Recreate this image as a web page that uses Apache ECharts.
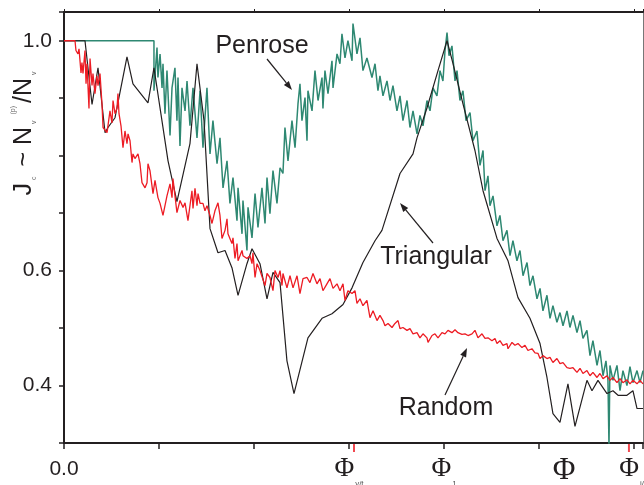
<!DOCTYPE html>
<html><head><meta charset="utf-8">
<script src="https://cdn.jsdelivr.net/npm/echarts@6/dist/echarts.min.js"></script>
<style>html,body{margin:0;padding:0;background:#fff}#c{width:644px;height:485px}</style>
</head><body><div id="c"></div>
<script>
// x in units of the bottom tick spacing (0 .. 6.1), y = Jc ~ Nv(p)/Nv
const triangular = [[0,1.000],[0.221,1.000],[0.295,0.889],[0.358,0.953],[0.432,0.840],[0.463,0.849],[0.537,0.866],[0.663,0.972],[0.726,0.925],[0.884,0.892],[0.947,0.953],[1.095,0.791],[1.189,0.720],[1.326,0.821],[1.400,0.960],[1.474,0.861],[1.537,0.673],[1.621,0.631],[1.695,0.635],[1.768,0.605],[1.832,0.557],[1.926,0.612],[1.979,0.638],[2.063,0.612],[2.137,0.551],[2.200,0.597],[2.274,0.579],[2.347,0.443],[2.421,0.386],[2.568,0.483],[2.716,0.517],[2.821,0.525],[2.937,0.541],[3.032,0.570],[3.147,0.614],[3.274,0.652],[3.347,0.670],[3.537,0.769],[3.674,0.803],[3.716,0.831],[3.821,0.883],[3.937,0.948],[4.032,1.000],[4.095,0.960],[4.200,0.890],[4.326,0.809],[4.411,0.739],[4.558,0.656],[4.674,0.617],[4.779,0.553],[4.905,0.517],[5.011,0.473],[5.084,0.414],[5.147,0.351],[5.221,0.336],[5.305,0.403],[5.379,0.329],[5.505,0.409],[5.558,0.391],[5.621,0.409],[5.716,0.386],[5.779,0.391],[5.832,0.383],[5.926,0.383],[5.989,0.391],[6.032,0.360],[6.095,0.360]];

const random = [[0,1.000],[0.116,1.000],[0.126,0.983],[0.147,0.977],[0.158,0.986],[0.179,0.944],[0.189,0.962],[0.200,0.943],[0.221,0.983],[0.232,0.925],[0.242,0.960],[0.263,0.882],[0.274,0.969],[0.295,0.922],[0.305,0.943],[0.326,0.908],[0.347,0.939],[0.358,0.922],[0.379,0.943],[0.400,0.890],[0.411,0.849],[0.453,0.840],[0.484,0.878],[0.505,0.857],[0.516,0.896],[0.537,0.873],[0.558,0.883],[0.568,0.908],[0.579,0.873],[0.600,0.852],[0.621,0.814],[0.642,0.843],[0.663,0.821],[0.674,0.838],[0.695,0.826],[0.716,0.788],[0.726,0.803],[0.747,0.795],[0.779,0.803],[0.800,0.786],[0.821,0.753],[0.853,0.744],[0.874,0.753],[0.884,0.786],[0.905,0.774],[0.937,0.734],[0.958,0.757],[0.989,0.727],[1.011,0.717],[1.042,0.696],[1.084,0.730],[1.116,0.751],[1.137,0.727],[1.147,0.760],[1.189,0.701],[1.221,0.722],[1.253,0.710],[1.274,0.718],[1.305,0.687],[1.347,0.739],[1.358,0.708],[1.379,0.743],[1.400,0.713],[1.411,0.734],[1.432,0.717],[1.463,0.717],[1.484,0.704],[1.505,0.713],[1.537,0.696],[1.558,0.682],[1.589,0.704],[1.621,0.718],[1.642,0.696],[1.663,0.656],[1.695,0.670],[1.716,0.690],[1.726,0.664],[1.768,0.647],[1.779,0.657],[1.800,0.621],[1.821,0.647],[1.832,0.617],[1.874,0.635],[1.884,0.626],[1.926,0.621],[1.958,0.626],[1.979,0.612],[1.989,0.631],[2.011,0.588],[2.032,0.612],[2.063,0.600],[2.084,0.600],[2.116,0.574],[2.137,0.595],[2.168,0.588],[2.200,0.565],[2.221,0.600],[2.242,0.603],[2.253,0.588],[2.274,0.600],[2.295,0.574],[2.305,0.595],[2.347,0.570],[2.379,0.591],[2.411,0.570],[2.453,0.591],[2.484,0.560],[2.516,0.586],[2.558,0.588],[2.589,0.579],[2.621,0.595],[2.663,0.577],[2.695,0.586],[2.726,0.565],[2.768,0.577],[2.800,0.586],[2.832,0.569],[2.874,0.577],[2.905,0.565],[2.937,0.577],[2.958,0.548],[2.989,0.565],[3.032,0.560],[3.063,0.565],[3.084,0.543],[3.116,0.551],[3.147,0.539],[3.189,0.548],[3.221,0.518],[3.253,0.530],[3.295,0.513],[3.326,0.522],[3.358,0.513],[3.379,0.504],[3.411,0.508],[3.453,0.501],[3.484,0.508],[3.516,0.513],[3.537,0.499],[3.568,0.501],[3.611,0.496],[3.642,0.499],[3.674,0.490],[3.716,0.492],[3.747,0.483],[3.779,0.490],[3.821,0.483],[3.832,0.475],[3.874,0.487],[3.905,0.490],[3.937,0.483],[3.979,0.492],[4.011,0.490],[4.042,0.496],[4.084,0.492],[4.116,0.497],[4.147,0.492],[4.189,0.489],[4.221,0.490],[4.253,0.487],[4.295,0.490],[4.326,0.496],[4.358,0.483],[4.400,0.490],[4.432,0.482],[4.463,0.483],[4.505,0.478],[4.537,0.482],[4.558,0.473],[4.589,0.478],[4.621,0.470],[4.663,0.473],[4.674,0.464],[4.716,0.475],[4.747,0.470],[4.779,0.473],[4.821,0.466],[4.853,0.470],[4.884,0.461],[4.926,0.464],[4.958,0.457],[4.989,0.456],[5.011,0.447],[5.042,0.452],[5.084,0.447],[5.116,0.449],[5.147,0.440],[5.189,0.447],[5.221,0.438],[5.253,0.440],[5.295,0.431],[5.326,0.430],[5.358,0.431],[5.400,0.423],[5.432,0.430],[5.463,0.421],[5.505,0.426],[5.537,0.417],[5.568,0.423],[5.611,0.414],[5.642,0.421],[5.674,0.412],[5.716,0.417],[5.747,0.409],[5.779,0.414],[5.821,0.405],[5.853,0.412],[5.884,0.405],[5.926,0.410],[5.958,0.403],[5.989,0.409],[6.032,0.403],[6.063,0.409],[6.095,0.403]];

const penrose = [[0,1.000],[0.947,1.000],[0.947,0.913],[0.979,0.988],[0.989,0.936],[1.011,0.977],[1.032,0.918],[1.042,0.960],[1.063,0.873],[1.084,0.948],[1.116,0.835],[1.137,0.918],[1.168,0.953],[1.189,0.861],[1.200,0.936],[1.221,0.817],[1.242,0.918],[1.274,0.878],[1.295,0.930],[1.326,0.852],[1.358,0.918],[1.400,0.831],[1.432,0.913],[1.463,0.814],[1.505,0.918],[1.537,0.803],[1.568,0.861],[1.611,0.786],[1.642,0.831],[1.674,0.744],[1.716,0.791],[1.747,0.717],[1.779,0.762],[1.821,0.687],[1.832,0.744],[1.874,0.664],[1.884,0.722],[1.926,0.635],[1.937,0.710],[1.979,0.657],[2.011,0.734],[2.042,0.675],[2.084,0.744],[2.116,0.682],[2.137,0.762],[2.168,0.699],[2.200,0.774],[2.242,0.717],[2.274,0.779],[2.305,0.769],[2.326,0.849],[2.358,0.791],[2.400,0.861],[2.432,0.814],[2.463,0.890],[2.484,0.925],[2.505,0.861],[2.537,0.901],[2.558,0.826],[2.568,0.913],[2.611,0.878],[2.642,0.948],[2.674,0.896],[2.716,0.936],[2.726,0.882],[2.747,0.948],[2.779,0.908],[2.821,0.965],[2.832,0.918],[2.874,0.977],[2.905,0.960],[2.926,1.012],[2.958,0.970],[2.989,1.000],[3.032,0.965],[3.042,1.030],[3.084,0.977],[3.116,1.005],[3.147,0.948],[3.189,0.970],[3.242,0.936],[3.274,0.960],[3.305,0.913],[3.326,0.939],[3.358,0.904],[3.400,0.930],[3.432,0.896],[3.463,0.922],[3.505,0.878],[3.537,0.904],[3.568,0.861],[3.611,0.896],[3.642,0.849],[3.674,0.878],[3.716,0.838],[3.747,0.870],[3.779,0.852],[3.821,0.896],[3.853,0.878],[3.884,0.918],[3.926,0.904],[3.958,0.948],[3.989,0.930],[4.011,0.983],[4.032,1.014],[4.053,0.974],[4.084,0.991],[4.116,0.930],[4.137,0.948],[4.168,0.896],[4.200,0.913],[4.232,0.861],[4.274,0.875],[4.305,0.826],[4.347,0.843],[4.379,0.783],[4.411,0.809],[4.432,0.739],[4.463,0.765],[4.484,0.713],[4.516,0.730],[4.558,0.678],[4.589,0.696],[4.621,0.652],[4.663,0.670],[4.695,0.626],[4.726,0.652],[4.768,0.617],[4.800,0.635],[4.832,0.591],[4.874,0.614],[4.905,0.574],[4.937,0.591],[4.979,0.551],[5.011,0.569],[5.042,0.530],[5.084,0.557],[5.116,0.517],[5.147,0.539],[5.189,0.510],[5.221,0.527],[5.253,0.504],[5.295,0.530],[5.326,0.501],[5.358,0.522],[5.400,0.492],[5.432,0.513],[5.463,0.482],[5.505,0.496],[5.537,0.452],[5.568,0.478],[5.611,0.435],[5.642,0.461],[5.674,0.417],[5.705,0.443],[5.726,0.409],[5.737,0.294],[5.747,0.435],[5.779,0.409],[5.821,0.435],[5.853,0.391],[5.884,0.426],[5.926,0.400],[5.958,0.433],[5.989,0.405],[6.032,0.426],[6.063,0.405],[6.095,0.426]];

const phiMarks = [3.053, 5.947];
const yLabelValues = [0.4, 0.6, 1.0];
const xLabelPos = [0, 3, 4, 6];
const xLabelMain = ['0.0', 'Φ', 'Φ', 'Φ'];
const xLabelSub = ['', 'v/t', '1', 'i/T'];

const INK = '#231f20';
const TEAL = '#2e8872';
const RED = '#ed1c24';
const SANS = '"Liberation Sans", Arial, sans-serif';
const SERIF = '"Liberation Serif", "Times New Roman", serif';

function arrow(x1, y1, x2, y2) {
  const dx = x2 - x1, dy = y2 - y1, L = Math.hypot(dx, dy);
  const ux = dx / L, uy = dy / L, hl = 9, hw = 3.2;
  const bx = x2 - ux * hl, by = y2 - uy * hl;
  return [
    { type: 'line', shape: { x1: x1, y1: y1, x2: bx, y2: by }, style: { stroke: INK, lineWidth: 1.2 } },
    { type: 'polygon', shape: { points: [[x2, y2], [bx - uy * hw, by + ux * hw], [bx + uy * hw, by - ux * hw]] }, style: { fill: INK } }
  ];
}

const chart = echarts.init(document.getElementById('c'), null, { renderer: 'canvas' });
chart.setOption({
  animation: false,
  backgroundColor: '#fff',
  grid: { left: 64, right: 1, top: 12, bottom: 42, containLabel: false, outerBoundsMode: 'none' },
  xAxis: [{
    type: 'value', min: 0, max: 6.095, interval: 1, position: 'bottom',
    axisLine: { show: true, onZero: false, lineStyle: { color: INK, width: 2 } },
    axisTick: { show: true, length: 6, lineStyle: { color: INK, width: 1.5 } },
    splitLine: { show: false },
    axisLabel: {
      margin: 13,
      formatter: function (v) {
        const i = xLabelPos.findIndex(function (p) { return Math.abs(p - v) < 1e-6; });
        if (i < 0) return '';
        if (!xLabelSub[i]) return '{num|' + xLabelMain[i] + '}';
        return '{phi|' + xLabelMain[i] + '}{sub|' + xLabelSub[i] + '}';
      },
      rich: {
        num: { fontSize: 21, fontFamily: SANS, color: INK, lineHeight: 26 },
        phi: { fontSize: 27, fontFamily: SERIF, color: INK, lineHeight: 26 },
        sub: { fontSize: 8, fontFamily: SANS, color: '#555', verticalAlign: 'bottom', lineHeight: 8, padding: [0, 0, -6, 1] }
      }
    }
  }, {
    type: 'value', min: 0, max: 6.095, interval: 1, position: 'top',
    axisLine: { show: true, onZero: false, lineStyle: { color: INK, width: 2 } },
    axisTick: { show: true, length: 3, lineStyle: { color: INK } },
    axisLabel: { show: false }, splitLine: { show: false }
  }],
  yAxis: [{
    type: 'value', min: 0.3, max: 1.05, interval: 0.1, position: 'left',
    axisLine: { show: true, onZero: false, lineStyle: { color: INK, width: 2 } },
    axisTick: { show: true, length: 5, lineStyle: { color: INK, width: 1.5 } },
    splitLine: { show: false },
    axisLabel: {
      margin: 12, fontSize: 21, fontFamily: SANS, color: INK,
      formatter: function (v) {
        return yLabelValues.some(function (p) { return Math.abs(p - v) < 1e-6; }) ? v.toFixed(1) : '';
      }
    }
  }, {
    type: 'value', min: 0.3, max: 1.05, position: 'right',
    axisLine: { show: true, onZero: false, lineStyle: { color: '#777', width: 1 } },
    axisTick: { show: false }, axisLabel: { show: false }, splitLine: { show: false }
  }],
  series: [
    { name: 'Penrose', type: 'line', data: penrose, showSymbol: false, symbol: 'none',
      lineStyle: { color: TEAL, width: 1.5 }, z: 2 },
    { name: 'Triangular', type: 'line', data: triangular, showSymbol: false, symbol: 'none',
      lineStyle: { color: INK, width: 1.2 }, z: 3 },
    { name: 'Random', type: 'line', data: random, showSymbol: false, symbol: 'none',
      lineStyle: { color: RED, width: 1.3 }, z: 4 },
    { name: 'marks', type: 'scatter', data: phiMarks.map(function (x) { return [x, 0.3]; }),
      symbol: 'rect', symbolSize: [2, 8], symbolOffset: [0, 5], clip: false,
      itemStyle: { color: RED }, z: 5, silent: true }
  ],
  graphic: [
    { type: 'text', x: 24, y: 132, rotation: Math.PI / 2, z: 10,
      style: {
        text: '{n|J}{sub|c}{n| ~ N}{sub|v}{sup|(p)}{n|/N}{sub|v}',
        align: 'center', verticalAlign: 'middle',
        rich: {
          n: { fontSize: 25, fontFamily: SANS, fill: INK, lineHeight: 28 },
          sub: { fontSize: 7, fontFamily: SANS, fill: '#666', verticalAlign: 'bottom', lineHeight: 8, padding: [0, 3, 0, 3] },
          sup: { fontSize: 7, fontFamily: SANS, fill: '#666', verticalAlign: 'top', lineHeight: 8, padding: [0, 3, 0, 3] }
        }
      } },
    { type: 'text', x: 262, y: 46, z: 10, style: { text: 'Penrose', font: '25px ' + SANS, fill: INK, align: 'center', verticalAlign: 'middle' } },
    { type: 'text', x: 436, y: 257, z: 10, style: { text: 'Triangular', font: '25px ' + SANS, fill: INK, align: 'center', verticalAlign: 'middle' } },
    { type: 'text', x: 446, y: 408, z: 10, style: { text: 'Random', font: '25px ' + SANS, fill: INK, align: 'center', verticalAlign: 'middle' } },
    { type: 'text', x: 564, y: 471, z: 10, style: { text: 'Φ', font: '31px ' + SERIF, fill: INK, align: 'center', verticalAlign: 'middle' } },
    { type: 'group', z: 10, children: arrow(267, 59, 292, 90).concat(arrow(433, 243, 400, 203), arrow(445, 395, 467, 348)) }
  ]
});
</script>
</body></html>
